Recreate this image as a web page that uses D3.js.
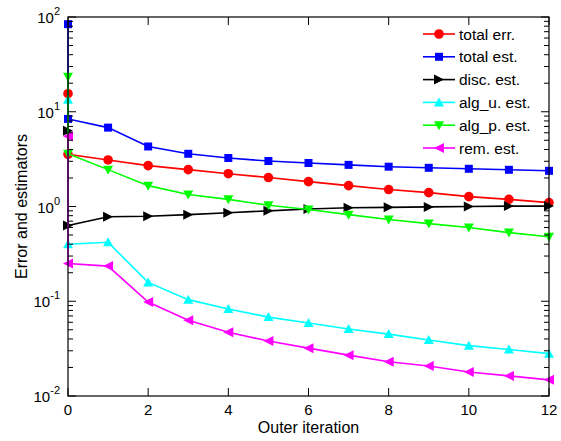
<!DOCTYPE html>
<html><head><meta charset="utf-8">
<script src="https://cdn.jsdelivr.net/npm/d3@7"></script>
<style>body{margin:0;background:#fff}svg{display:block}text{font-family:"Liberation Sans",Arial,sans-serif;fill:#000}</style>
</head><body>
<svg id="c" width="561" height="441"></svg>
<script>
const iterations = [0,0,1,2,3,4,5,6,7,8,9,10,11,12];
const totalErr = [15.5,3.55,3.1,2.7,2.45,2.22,2.02,1.83,1.66,1.51,1.40,1.27,1.19,1.10];
const totalEst = [84,8.4,6.8,4.3,3.6,3.25,3.02,2.88,2.75,2.63,2.56,2.50,2.44,2.38];
const discEst = [6.3,0.63,0.78,0.79,0.82,0.86,0.9,0.94,0.97,0.98,0.99,1.0,1.01,1.01];
const algUEst = [13.4,0.40,0.42,0.158,0.104,0.083,0.068,0.059,0.051,0.045,0.039,0.034,0.031,0.028];
const algPEst = [23.4,3.6,2.45,1.66,1.34,1.19,1.03,0.93,0.82,0.73,0.66,0.60,0.53,0.48];
const remEst = [5.5,0.25,0.235,0.098,0.063,0.047,0.038,0.032,0.027,0.023,0.0207,0.0179,0.0163,0.0148];
const seriesNames = ["total err.","total est.","disc. est.","alg_u. est.","alg_p. est.","rem. est."];
const xTicks = [0,2,4,6,8,10,12];
const yExponents = [-2,-1,0,1,2];

const series = [
  {name:seriesNames[0], values:totalErr, color:"#ff0000", marker:"circle"},
  {name:seriesNames[1], values:totalEst, color:"#0000ff", marker:"square"},
  {name:seriesNames[2], values:discEst, color:"#000000", marker:"right"},
  {name:seriesNames[3], values:algUEst, color:"#00ffff", marker:"up"},
  {name:seriesNames[4], values:algPEst, color:"#00ff00", marker:"down"},
  {name:seriesNames[5], values:remEst, color:"#ff00ff", marker:"left"}
];

const svg = d3.select("#c");
const L=68, R=549, T=17, B=396;
const x = d3.scaleLinear().domain([0,12]).range([L,R]);
const y = d3.scaleLog().domain([0.01,100]).range([B,T]);

function markerPath(type){
  const s=5;
  switch(type){
    case "square": return `M${-4},${-4}H4V4H-4Z`;
    case "right": return `M${-s},${-s}L${s},0L${-s},${s}Z`;
    case "left": return `M${s},${-s}L${-s},0L${s},${s}Z`;
    case "up": return `M${-s},${s*0.8}L0,${-s}L${s},${s*0.8}Z`;
    case "down": return `M${-s},${-s*0.8}L0,${s}L${s},${-s*0.8}Z`;
  }
}
function drawMarker(g, type, color){
  if(type==="circle") g.append("circle").attr("r",4.8).attr("fill",color);
  else g.append("path").attr("d",markerPath(type)).attr("fill",color);
}

// series
const line = d3.line().x((d,i)=>x(iterations[i])).y(d=>y(d));
series.forEach(s=>{
  const g = svg.append("g");
  g.append("path").datum(s.values).attr("d",line).attr("fill","none").attr("stroke",s.color).attr("stroke-width",1.6);
  s.values.forEach((v,i)=>{
    const m = g.append("g").attr("transform",`translate(${x(iterations[i])},${y(v)})`);
    drawMarker(m,s.marker,s.color);
  });
});

// frame
const ax = svg.append("g");
ax.append("rect").attr("x",L).attr("y",T).attr("width",R-L).attr("height",B-T).attr("fill","none").attr("stroke","#000").attr("stroke-width",1.2);
// x ticks
xTicks.forEach(t=>{
  ax.append("line").attr("x1",x(t)).attr("x2",x(t)).attr("y1",B).attr("y2",B-8).attr("stroke","#000");
  ax.append("line").attr("x1",x(t)).attr("x2",x(t)).attr("y1",T).attr("y2",T+8).attr("stroke","#000");
  ax.append("text").attr("x",x(t)).attr("y",B+19).attr("text-anchor","middle").attr("font-size",15).text(t);
});
// y ticks
yExponents.forEach(e=>{
  const v = Math.pow(10,e);
  [[L,L+8],[R,R-8]].forEach(([a,b])=>ax.append("line").attr("x1",a).attr("x2",b).attr("y1",y(v)).attr("y2",y(v)).attr("stroke","#000"));
  if(e<2){
    for(let k=2;k<=9;k++){
      const mv=k*v;
      [[L,L+5],[R,R-5]].forEach(([a,b])=>ax.append("line").attr("x1",a).attr("x2",b).attr("y1",y(mv)).attr("y2",y(mv)).attr("stroke","#000"));
    }
  }
  const tx = ax.append("text").attr("x",L-8).attr("y",y(v)+6).attr("text-anchor","end").attr("font-size",15);
  tx.append("tspan").text("10");
  tx.append("tspan").attr("dy",-8).attr("font-size",11).text(e);
});
// axis labels
svg.append("text").attr("x",(L+R)/2).attr("y",433).attr("text-anchor","middle").attr("font-size",16).text("Outer iteration");
svg.append("text").attr("transform",`translate(27,${(T+B)/2}) rotate(-90)`).attr("text-anchor","middle").attr("font-size",16).text("Error and estimators");

// legend
const lg = svg.append("g");
series.forEach((s,i)=>{
  const yy = 34 + i*22.8;
  lg.append("line").attr("x1",423).attr("x2",455).attr("y1",yy).attr("y2",yy).attr("stroke",s.color).attr("stroke-width",1.6);
  const m = lg.append("g").attr("transform",`translate(439,${yy})`);
  drawMarker(m,s.marker,s.color);
  lg.append("text").attr("x",459).attr("y",yy+5.5).attr("font-size",15.5).text(s.name);
});
</script>
</body></html>
